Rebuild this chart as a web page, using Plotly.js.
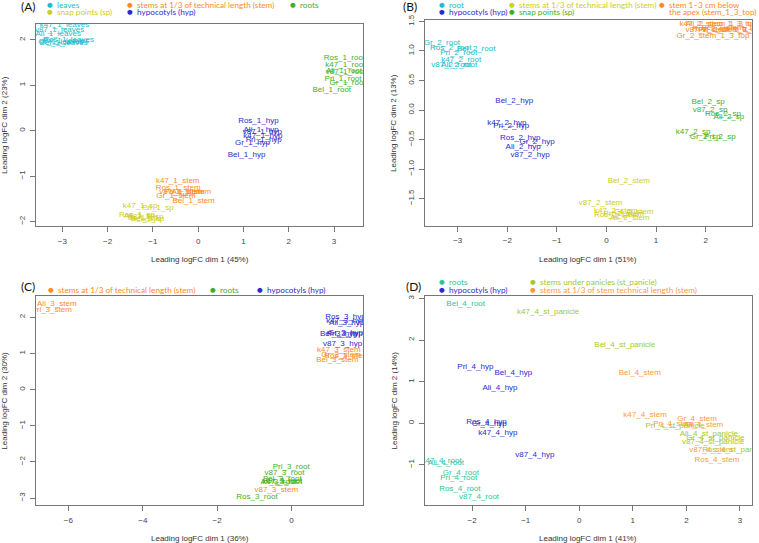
<!DOCTYPE html>
<html><head><meta charset="utf-8">
<script src="https://cdn.plot.ly/plotly-3.0.1.min.js"></script>
<style>html,body{margin:0;padding:0;background:#fff}#chart{width:759px;height:543px}</style>
</head><body><div id="chart"></div>
<script>
// ---------- Panel A ----------
const A_labels=["k47_1_leaves","v87_1_leaves","Ali_1_leaves","Ros_1_leaves","Pri_1_leaves","Gr_1_leaves","Bel_1_leaves",
"k47_1_stem","Ros_1_stem","v87_1_stem","Pri_1_stem","Ali_1_stem","Gr_1_stem","Bel_1_stem",
"Ros_1_root","k47_1_root","Ali_1_root","v87_1_root","Pri_1_root","Gr_1_root","Bel_1_root",
"k47_1_sp","Pri_1_sp","Ros_1_sp","Ali_1_sp","v87_1_sp","Gr_1_sp","Bel_1_sp",
"Ros_1_hyp","Ali_1_hyp","v87_1_hyp","k47_1_hyp","Pri_1_hyp","Gr_1_hyp","Bel_1_hyp"];
const A_x=[-2.95,-3.06,-3.09,-2.86,-2.92,-3.03,-2.97,
-0.45,-0.44,-0.38,-0.30,-0.15,-0.49,-0.10,
3.23,3.25,3.22,3.26,3.20,3.30,2.95,
-1.28,-0.89,-1.35,-1.30,-1.15,-1.22,-1.12,
1.33,1.39,1.42,1.43,1.45,1.20,1.07];
const A_y=[2.32,2.22,2.12,2.00,1.98,1.95,1.93,
-1.10,-1.26,-1.34,-1.36,-1.35,-1.45,-1.55,
1.61,1.44,1.31,1.29,1.13,1.05,0.89,
-1.65,-1.70,-1.85,-1.89,-1.90,-1.93,-1.95,
0.22,0.01,-0.02,-0.11,-0.20,-0.28,-0.54];
const A_group=[0,0,0,0,0,0,0,1,1,1,1,1,1,1,2,2,2,2,2,2,2,3,3,3,3,3,3,3,4,4,4,4,4,4,4];
const A_groupNames=["leaves","stems at 1/3 of technical length (stem)","roots","snap points (sp)","hypocotyls (hyp)"];
const A_colors=["#22BACB","#FF8A1E","#3DB126","#CDCD22","#2B2BCC"];

// ---------- Panel B ----------
const B_labels=["Gr_2_root","Ros_2_root","Bel_2_root","Pri_2_root","k47_2_root","v87_2_root","Ali_2_root",
"Bel_2_hyp","k47_2_hyp","Pri_2_hyp","Ros_2_hyp","Gr_2_hyp","Ali_2_hyp","v87_2_hyp",
"Bel_2_stem","v87_2_stem","k47_2_stem","Gr_2_stem","Pri_2_stem","Ros_2_stem","Ali_2_stem",
"k47_2_stem_1_3_top","Ali_2_stem_1_3_top","v87_2_stem_1_3_top","Ros_2_stem_1_3_top","Pri_2_stem_1_3_top","Bel_2_stem_1_3_top","Gr_2_stem_1_3_top",
"Bel_2_sp","v87_2_sp","Ros_2_sp","Ali_2_sp","k47_2_sp","Gr_2_sp","Pri_2_sp"];
const B_x=[-3.32,-3.14,-2.63,-2.98,-2.93,-3.13,-2.97,
-1.86,-2.01,-1.92,-1.74,-1.40,-1.68,-1.54,
0.45,-0.12,0.19,0.55,0.35,0.20,0.47,
2.25,2.33,2.37,2.52,2.60,2.68,2.15,
2.05,2.09,2.35,2.47,1.75,1.99,2.29];
const B_y=[1.14,1.05,1.03,0.97,0.85,0.76,0.76,
0.16,-0.22,-0.27,-0.47,-0.54,-0.63,-0.76,
-1.21,-1.58,-1.71,-1.73,-1.77,-1.78,-1.83,
1.45,1.45,1.36,1.38,1.35,1.39,1.25,
0.14,0.00,-0.06,-0.12,-0.38,-0.46,-0.46];
const B_group=[0,0,0,0,0,0,0,1,1,1,1,1,1,1,2,2,2,2,2,2,2,3,3,3,3,3,3,3,4,4,4,4,4,4,4];
const B_groupNames=["root","hypocotyls (hyp)","stems at 1/3 of technical length (stem)","stem 1\u20133 cm below<br>the apex (stem_1_3_top)","snap points (sp)"];
const B_colors=["#22BACB","#2B2BCC","#CDCD22","#FF8A1E","#3DB126"];

// ---------- Panel C ----------
const C_labels=["Ali_3_stem","Pri_3_stem","k47_3_stem","Gr_3_stem","Ros_3_stem","Bel_3_stem","v87_3_stem",
"Pri_3_root","v87_3_root","Bel_3_root","Ali_3_root","k47_3_root","Gr_3_root","Ros_3_root",
"Ros_3_hyp","k47_3_hyp","Ali_3_hyp","Bel_3_hyp","Pri_3_hyp","Gr_3_hyp","v87_3_hyp"];
const C_x=[-6.31,-6.45,1.27,1.33,1.48,1.23,-0.41,
-0.01,-0.19,-0.25,-0.35,-0.25,-0.20,-0.93,
1.45,1.46,1.48,1.27,1.43,1.45,1.37];
const C_y=[2.37,2.20,1.09,0.95,0.93,0.83,-2.78,
-2.13,-2.32,-2.47,-2.55,-2.55,-2.53,-2.98,
2.02,1.90,1.83,1.54,1.54,1.58,1.26];
const C_group=[0,0,0,0,0,0,0,1,1,1,1,1,1,1,2,2,2,2,2,2,2];
const C_groupNames=["stems at 1/3 of technical length (stem)","roots","hypocotyls (hyp)"];
const C_colors=["#FF8A1E","#3DB126","#2B2BCC"];

// ---------- Panel D ----------
const D_labels=["Bel_4_root","k47_4_root","Ali_4_root","Gr_4_root","Pri_4_root","Ros_4_root","v87_4_root",
"k47_4_st_panicle","Bel_4_st_panicle","Pri_4_st_panicle","Ali_4_st_panicle","Gr_4_st_panicle","v87_4_st_panicle","Ros_4_st_panicle",
"Pri_4_hyp","Bel_4_hyp","Ali_4_hyp","Ros_4_hyp","Gr_4_hyp","k47_4_hyp","v87_4_hyp",
"Bel_4_stem","k47_4_stem","Gr_4_stem","Pri_4_stem","Ali_4_stem","v87_4_stem","Ros_4_stem"];
const D_x=[-2.12,-2.57,-2.49,-2.21,-2.25,-2.23,-1.87,
-0.58,0.85,1.79,2.42,2.54,2.50,2.89,
-1.94,-1.23,-1.48,-1.73,-1.68,-1.52,-0.83,
1.13,1.23,2.20,1.76,2.32,2.46,2.57];
const D_y=[2.87,-0.90,-0.95,-1.20,-1.33,-1.58,-1.78,
2.68,1.89,-0.08,-0.27,-0.36,-0.46,-0.64,
1.34,1.21,0.84,0.03,-0.02,-0.24,-0.77,
1.21,0.20,0.10,-0.02,-0.04,-0.64,-0.88];
const D_group=[0,0,0,0,0,0,0,1,1,1,1,1,1,1,2,2,2,2,2,2,2,3,3,3,3,3,3,3];
const D_groupNames=["roots","stems under panicles (st_panicle)","hypocotyls (hyp)","stems at 1/3 of stem technical length (stem)"];
const D_colors=["#2FC693","#9CCB2E","#2B2BCC","#FF9A3C"];

const xTitles=["Leading logFC dim 1 (45%)","Leading logFC dim 1 (51%)","Leading logFC dim 1 (36%)","Leading logFC dim 1 (41%)"];
const yTitles=["Leading logFC dim 2 (23%)","Leading logFC dim 2 (13%)","Leading logFC dim 2 (30%)","Leading logFC dim 2 (14%)"];
const panelTags=["(A)","(B)","(C)","(D)"];

// ---------- build ----------
const W=759,H=543;
const X=p=>p/W, Y=p=>1-p/H;
const LABFONT="Liberation Sans, Arial, sans-serif";
const LEGFONT="Lato, sans-serif";

const panels=[
 {lab:A_labels,x:A_x,y:A_y,g:A_group,col:A_colors,names:A_groupNames,ax:"",dom:[36,363,24,226],xr:[-3.58,3.64],yr:[-2.10,2.35],dx:1,dy:1,yfmt:""},
 {lab:B_labels,x:B_x,y:B_y,g:B_group,col:B_colors,names:B_groupNames,ax:"2",dom:[425,751.7,20.3,225.7],xr:[-3.66,2.93],yr:[-1.96,1.52],dx:1,dy:0.5,yfmt:".1f"},
 {lab:C_labels,x:C_x,y:C_y,g:C_group,col:C_colors,names:C_groupNames,ax:"3",dom:[36,363,296,505.3],xr:[-6.87,1.92],yr:[-3.2,2.59],dx:2,dy:1,yfmt:""},
 {lab:D_labels,x:D_x,y:D_y,g:D_group,col:D_colors,names:D_groupNames,ax:"4",dom:[425,751.7,296,505],xr:[-2.88,3.22],yr:[-1.97,3.06],dx:1,dy:1,yfmt:""}
];

const data=[];
const layout={width:W,height:H,margin:{l:0,r:0,t:0,b:0},paper_bgcolor:"#fff",plot_bgcolor:"#fff",showlegend:false,annotations:[]};

panels.forEach((p,pi)=>{
  p.names.forEach((nm,gi)=>{
    const idx=p.g.map((g,i)=>g===gi?i:-1).filter(i=>i>=0);
    data.push({type:"scatter",mode:"text",x:idx.map(i=>p.x[i]),y:idx.map(i=>p.y[i]),text:idx.map(i=>p.lab[i]),
      textposition:"middle center",cliponaxis:true,hoverinfo:"text",
      textfont:{family:LABFONT,size:8,color:p.col[gi]},xaxis:"x"+p.ax,yaxis:"y"+p.ax});
  });
  const common={showgrid:false,zeroline:false,showline:true,mirror:true,linecolor:"#777",linewidth:1,
    ticks:"outside",ticklen:5,tickcolor:"#777",tickfont:{family:LABFONT,size:8,color:"#444"},fixedrange:true};
  layout["xaxis"+p.ax]=Object.assign({},common,{domain:[X(p.dom[0]),X(p.dom[1])],range:p.xr,tick0:0,dtick:p.dx,anchor:"y"+p.ax,ticklabelstandoff:2});
  layout["yaxis"+p.ax]=Object.assign({},common,{domain:[Y(p.dom[3]),Y(p.dom[2])],range:p.yr,tick0:0,dtick:p.dy,anchor:"x"+p.ax,tickangle:-90,tickformat:p.yfmt,ticklabelstandoff:2});
  const cx=(p.dom[0]+p.dom[1])/2, cy=(p.dom[2]+p.dom[3])/2;
  layout.annotations.push({xref:"paper",yref:"paper",x:X(cx),y:Y(p.dom[3]+33.5),text:xTitles[pi],showarrow:false,
    xanchor:"center",yanchor:"middle",font:{family:LABFONT,size:8,color:"#333"}});
  layout.annotations.push({xref:"paper",yref:"paper",x:X(p.dom[0]-31),y:Y(cy),text:yTitles[pi],showarrow:false,textangle:-90,
    xanchor:"center",yanchor:"middle",font:{family:LABFONT,size:8,color:"#333"}});
});

function tag(t,x,y){layout.annotations.push({xref:"paper",yref:"paper",x:X(x),y:Y(y),text:t,showarrow:false,xanchor:"center",yanchor:"middle",font:{family:LEGFONT,size:12,color:"#111"}});}
function item(t,c,x,y){
  layout.annotations.push({xref:"paper",yref:"paper",x:X(x),y:Y(y),text:"\u25CF",showarrow:false,xanchor:"center",yanchor:"middle",font:{family:"DejaVu Sans",size:6.5,color:c}});
  const lines=t.split("<br>");
  lines.forEach((ln,k)=>{
    layout.annotations.push({xref:"paper",yref:"paper",x:X(x+5),y:Y(y+k*7.5),text:ln,showarrow:false,xanchor:"left",yanchor:"middle",font:{family:LEGFONT,size:8.2,color:c}});
  });
}
tag(panelTags[0],28,7);
item(A_groupNames[0],A_colors[0],50,4.7);
item(A_groupNames[1],A_colors[1],130,4.7);
item(A_groupNames[2],A_colors[2],292.7,4.7);
item(A_groupNames[3],A_colors[3],50,12);
item(A_groupNames[4],A_colors[4],130,12);

tag(panelTags[1],410,7);
item(B_groupNames[0],B_colors[0],441.7,4.5);
item(B_groupNames[2],B_colors[2],512,4.5);
item(B_groupNames[3],B_colors[3],662.3,4.5);
item(B_groupNames[1],B_colors[1],441.7,12);
item(B_groupNames[4],B_colors[4],512,12);

tag(panelTags[2],28,286.7);
item(C_groupNames[0],C_colors[0],50.7,290);
item(C_groupNames[1],C_colors[1],213.3,290);
item(C_groupNames[2],C_colors[2],260,290);

tag(panelTags[3],413,286.7);
item(D_groupNames[0],D_colors[0],441.7,281.7);
item(D_groupNames[1],D_colors[1],533.3,281.7);
item(D_groupNames[2],D_colors[2],441.7,290);
item(D_groupNames[3],D_colors[3],533.3,290);

Plotly.newPlot("chart",data,layout,{staticPlot:true,displayModeBar:false});
</script></body></html>
